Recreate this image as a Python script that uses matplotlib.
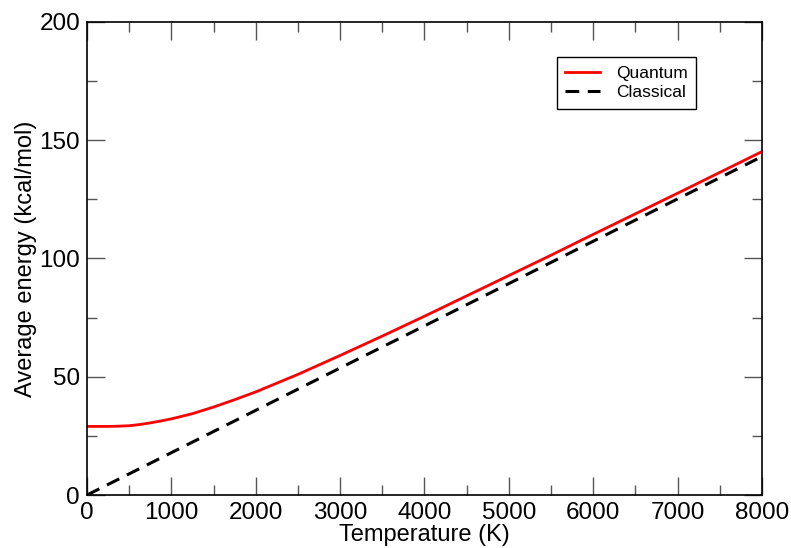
import matplotlib.pyplot as plt
from matplotlib.ticker import MultipleLocator

plt.rcParams['font.family'] = ['Liberation Sans', 'DejaVu Sans']

temp_q = [0, 250, 375, 500, 625, 750, 875, 1000, 1250, 1500, 1750, 2000, 2500, 3000,
          3500, 4000, 4500, 5000, 5500, 6000, 6500, 7000, 7500, 8000]
energy_q = [29.0, 29.0, 29.1, 29.3, 29.8, 30.5, 31.3, 32.2, 34.4, 37.2, 40.3, 43.6,
            51.0, 59.0, 67.2, 75.6, 84.2, 92.8, 101.4, 110.2, 118.9, 127.6, 136.4, 145.2]

temp_c = [0, 1000, 2000, 3000, 4000, 5000, 6000, 7000, 8000]
energy_c = [0, 17.9, 35.8, 53.7, 71.5, 89.4, 107.3, 125.2, 143.1]

fig = plt.figure(figsize=(7.91, 5.48), dpi=100)
ax = fig.add_axes([0.110, 0.0967, 0.8533, 0.8632])

ax.plot(temp_q, energy_q, color='red', lw=2, label='Quantum')
ax.plot(temp_c, energy_c, color='black', lw=2.2, dashes=(4.5, 2.8), label='Classical')

ax.set_xlim(0, 8000)
ax.set_ylim(0, 200)
ax.xaxis.set_major_locator(MultipleLocator(1000))
ax.xaxis.set_minor_locator(MultipleLocator(500))
ax.yaxis.set_major_locator(MultipleLocator(50))
ax.yaxis.set_minor_locator(MultipleLocator(25))
ax.tick_params(which='both', direction='in', top=True, right=True, labelsize=17.5, pad=5)
ax.tick_params(which='major', length=13, width=1, color='#555555')
ax.tick_params(which='minor', length=7, width=1, color='#555555')
for s in ax.spines.values():
    s.set_linewidth(1.2)

ax.set_xlabel('Temperature (K)', fontsize=17, labelpad=0)
ax.set_ylabel('Average energy (kcal/mol)', fontsize=17, labelpad=2)

leg = ax.legend(loc='upper left', bbox_to_anchor=(0.696, 0.926), borderaxespad=0,
                fontsize=12.5, frameon=True, fancybox=False, edgecolor='black',
                framealpha=1, handlelength=2.0, borderpad=0.5, labelspacing=0.25,
                handletextpad=0.9)
leg.get_frame().set_linewidth(1)

fig.savefig('out.png', dpi=100)
